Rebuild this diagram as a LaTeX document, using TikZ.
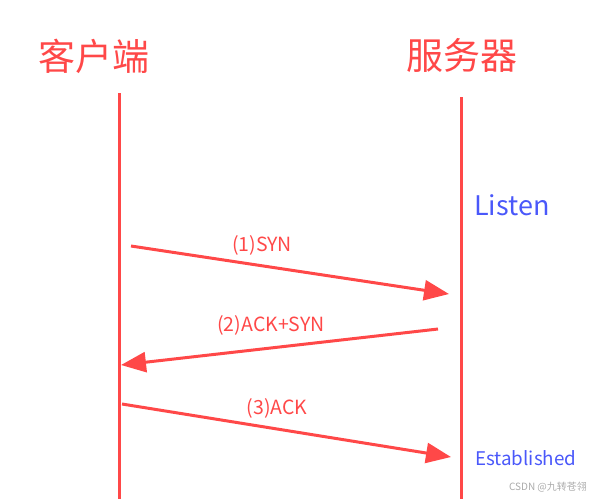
\documentclass[tikz,border=0pt]{standalone}
\usepackage{fontspec}
\setmainfont{Noto Sans CJK SC}
\usetikzlibrary{arrows.meta,positioning}
\definecolor{host-color}{RGB}{255,72,72}
\definecolor{state-color}{RGB}{74,88,250}
\definecolor{mark-color}{RGB}{170,170,170}
\tikzset{
  host/.style={text=host-color, inner sep=0, font=\fontsize{37}{40}\selectfont},
  lifeline/.style={draw=host-color, line width=3pt},
  msg/.style={draw=host-color, line width=3pt, -{Triangle[length=25pt,width=20pt]}},
  msg-label/.style={text=host-color, inner sep=0, font=\fontsize{19.5}{22}\selectfont},
  state/.style={text=state-color, inner sep=0, anchor=west}
}
\begin{document}
\begin{tikzpicture}[x=1pt,y=-1pt]
  \useasboundingbox (0,0) rectangle (593,499);
  % hosts and their lifelines
  \node[host] (client) at (94,56) {客户端};
  \node[host] (server) at (462,55) {服务器};
  \coordinate (client-top) at (119,93);
  \coordinate (client-end) at (119,499);
  \coordinate (server-top) at (461,97);
  \coordinate (server-end) at (461,499);
  \path[lifeline] (client-top) -- (client-end);
  \path[lifeline] (server-top) -- (server-end);
  % handshake
  \coordinate (syn-from) at (131,246);
  \coordinate (syn-to) at (449,294);
  \coordinate (synack-from) at (438,329);
  \coordinate (synack-to) at (121,365);
  \coordinate (ack-from) at (122,404);
  \coordinate (ack-to) at (451,457);
  \path[msg] (syn-from) -- (syn-to);
  \path[msg] (synack-from) -- (synack-to);
  \path[msg] (ack-from) -- (ack-to);
  \node[msg-label] (syn) at (262,245) {(1)SYN};
  \node[msg-label] (synack) at (271,325) {(2)ACK+SYN};
  \node[msg-label] (ack) at (277,408) {(3)ACK};
  % server states
  \node[state, font=\fontsize{27}{30}\selectfont] (listen) at (474,205) {Listen};
  \node[state, font=\fontsize{18.8}{21}\selectfont] (established) at (475,458) {Established};
  \node[text=mark-color, inner sep=0, font=\fontsize{10}{12}\selectfont] (mark) at (548,487) {CSDN @九转苍翎};
\end{tikzpicture}
\end{document}
